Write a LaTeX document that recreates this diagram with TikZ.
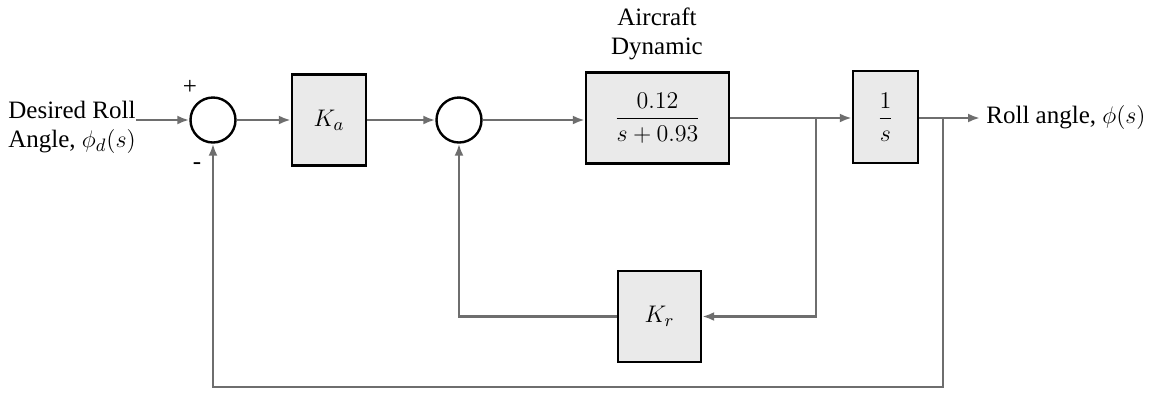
\documentclass[tikz,border=0pt]{standalone}
\usepackage{amsmath}
\usepackage{fontspec}
\setmainfont{Liberation Serif}
\usetikzlibrary{arrows.meta,calc}
\definecolor{boxgray}{RGB}{234,234,234}
\definecolor{linegray}{RGB}{110,110,110}
\begin{document}
\begin{tikzpicture}[x=0.5pt,y=-0.5pt,
  every node/.style={font=\fontsize{12.5}{14.5}\selectfont},
  blk/.style={draw=black, line width=1.2pt, fill=boxgray, inner sep=0pt},
  sumc/.style={circle, draw=black, line width=1.2pt, fill=white, minimum size=22.5pt, inner sep=0pt},
  conn/.style={draw=linegray, line width=1.2pt, -{Latex[length=6pt,width=4.5pt]}}]
\path[use as bounding box, fill=white] (0,0) rectangle (1158,393);
% main path nodes
\node[sumc] (s1) at (213,120) {};
\node[blk, minimum width=37pt, minimum height=45.5pt] (ka) at (329,120) {$K_a$};
\node[sumc] (s2) at (459,120) {};
\node[blk, minimum width=71.5pt, minimum height=45.5pt] (air) at (657.5,118) {\fontsize{12.5}{14}\selectfont$\dfrac{0.12}{s+0.93}$};
\node[blk, minimum width=32.5pt, minimum height=46pt] (inv) at (885.5,117) {\fontsize{12.5}{14}\selectfont$\dfrac{1}{s}$};
\node[blk, minimum width=41.5pt, minimum height=45.5pt] (kr) at (659.5,316.5) {$K_r$};
% labels
\node[align=center, inner sep=0pt] (airlbl) at (657,34) {Aircraft\\Dynamic};
\node[align=left, anchor=west, inner sep=0pt] (inlbl) at (8,127) {Desired Roll\\Angle, $\phi_d(s)$};
\node[anchor=west, inner sep=0pt] (outlbl) at (986,117) {Roll angle, $\phi(s)$};
\node[inner sep=0pt] (plus) at (190,87) {+};
\node[inner sep=0pt] (minus) at (197,166) {-};
% coordinates
\coordinate (inS) at (136,120);
\coordinate (b1) at (816,118);
\coordinate (b2) at (943,118);
\coordinate (outT) at (980,118);
\coordinate (bot) at (213,387);
% connectors
\draw[conn] (inS) -- (s1.west);
\draw[conn] (s1.east) -- (ka.west |- s1.east);
\draw[conn] (ka.east |- s2.west) -- (s2.west);
\draw[conn] (s2.east) -- (air.west |- s2.east);
\draw[conn] (air.east |- b1) -- (inv.west |- b1);
\draw[conn] (inv.east |- b2) -- (outT);
\draw[conn] (b1) |- (kr.east);
\draw[conn] (kr.west) -| (s2.south);
\draw[conn] (b2) |- (bot) -- (s1.south);
\end{tikzpicture}
\end{document}
